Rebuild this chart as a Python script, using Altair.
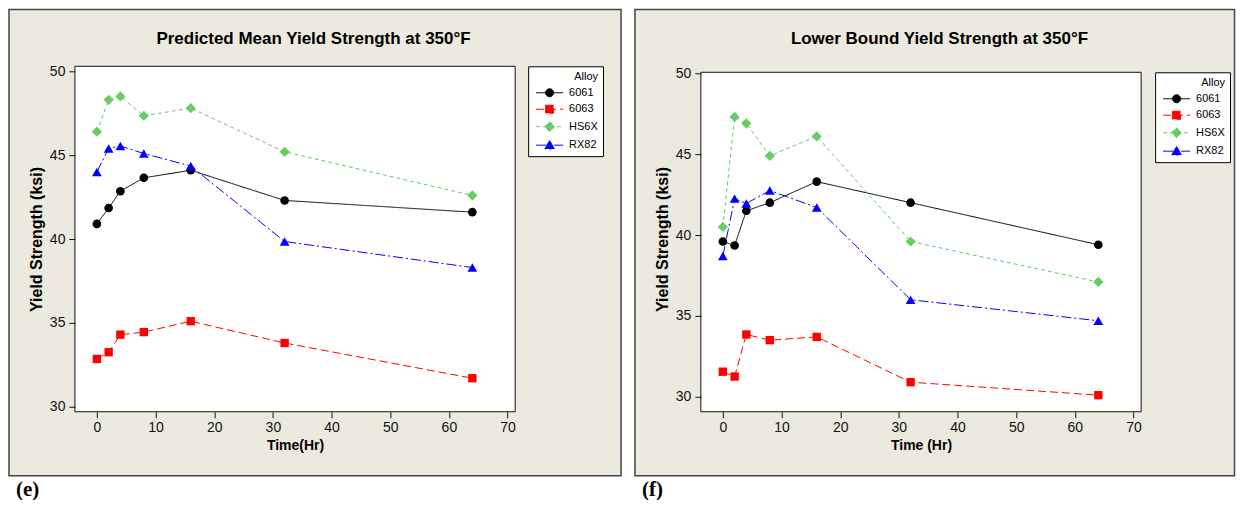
import altair as alt
import pandas as pd

FONT = "Liberation Sans"
BEIGE = "#ECE9DF"

times = [0, 2, 4, 8, 16, 32, 64]
alloys = ["6061", "6063", "HS6X", "RX82"]

mean_6061 = [40.9, 41.85, 42.85, 43.65, 44.1, 42.3, 41.6]
mean_6063 = [32.85, 33.25, 34.3, 34.45, 35.1, 33.8, 31.7]
mean_hs6x = [46.4, 48.3, 48.5, 47.35, 47.8, 45.2, 42.6]
mean_rx82 = [44.0, 45.4, 45.55, 45.1, 44.35, 39.85, 38.3]

lower_6061 = [39.6, 39.35, 41.5, 42.0, 43.3, 42.0, 39.4]
lower_6063 = [31.55, 31.25, 33.85, 33.5, 33.7, 30.9, 30.1]
lower_hs6x = [40.5, 47.3, 46.9, 44.9, 46.1, 39.6, 37.1]
lower_rx82 = [38.7, 42.25, 41.95, 42.75, 41.7, 36.0, 34.7]

x_ticks = [0, 10, 20, 30, 40, 50, 60, 70]
y_ticks = [30, 35, 40, 45, 50]

colors = ["#000000", "#FF0000", "#66CC66", "#0000FF"]
dashes = [[1, 0], [8, 4], [4, 3], [10, 3, 2, 3]]
legend_paths = [
    "M-2.7,0H2.7M0.8,0A0.8,0.8,0,1,1,-0.8,0A0.8,0.8,0,1,1,0.8,0Z",
    "M-2.7,0H2.7M-0.8,-0.8H0.8V0.8H-0.8Z",
    "M-2.7,0H2.7M0,-1L1,0L0,1L-1,0Z",
    "M-2.7,0H2.7M0,-0.95L0.95,0.75H-0.95Z",
]

W, H = 441, 346


def long_df(series):
    rows = []
    for alloy, vals in zip(alloys, series):
        for t, v in zip(times, vals):
            rows.append({"Alloy": alloy, "Time": t, "Yield": v})
    return pd.DataFrame(rows)


def panel(df, title, xtitle, y_domain, frame_top, leg_x, leg_y, bg_box, tag):
    one = pd.DataFrame({"k": [0]})
    xs = alt.Scale(domain=[-3.75, 71.3], nice=False, zero=False)
    ys = alt.Scale(domain=y_domain, nice=False, zero=False)
    xax = alt.Axis(values=x_ticks, title=xtitle, tickSize=6, labelPadding=3,
                   titlePadding=4, titleFontSize=14, domain=False, grid=False,
                   zindex=1, labelFont=FONT, labelFontSize=14, labelColor="#111",
                   tickColor="#111", titleFont=FONT, titleFontWeight="bold",
                   titleColor="#000")
    yax = alt.Axis(values=y_ticks, title="Yield Strength (ksi)", tickSize=6,
                   labelPadding=4, titlePadding=5, titleFontSize=16, domain=False,
                   grid=False, zindex=1, labelFont=FONT, labelFontSize=14,
                   labelColor="#111", tickColor="#111", titleFont=FONT,
                   titleFontWeight="bold", titleColor="#000")
    X = alt.X("Time:Q", scale=xs, axis=xax)
    Y = alt.Y("Yield:Q", scale=ys, axis=yax)

    leg = alt.Legend(title="Alloy", orient="none", legendX=leg_x, legendY=leg_y,
                     fillColor="white", strokeColor="black", padding=5,
                     titleFont=FONT, titleFontSize=11, titleFontWeight="normal",
                     titleColor="black", titleAnchor="end", titlePadding=5,
                     labelFont=FONT, labelFontSize=11, labelColor="black",
                     labelOffset=14, symbolSize=100, symbolStrokeWidth=1,
                     symbolOpacity=1, symbolOffset=11, rowPadding=3.5, zindex=1)

    col_scale = alt.Scale(domain=alloys, range=colors)
    dash_scale = alt.Scale(domain=alloys, range=dashes)

    bx0, bx1, by0, by1 = bg_box
    bg = alt.Chart(one).mark_rect(fill=BEIGE, stroke="#444", strokeWidth=1.5).encode(
        x=alt.value(bx0), x2=alt.value(bx1), y=alt.value(by0), y2=alt.value(by1))
    frame = alt.Chart(one).mark_rect(fill="white", stroke="#111", strokeWidth=1).encode(
        x=alt.value(0), x2=alt.value(W), y=alt.value(frame_top), y2=alt.value(H))
    ttl = alt.Chart(one).mark_text(text=title, font=FONT, fontSize=17, fontWeight="bold",
                                   color="black", align="center", baseline="alphabetic").encode(
        x=alt.value(239), y=alt.value(-22))
    tag_t = alt.Chart(one).mark_text(text=tag, font="Liberation Serif", fontSize=21,
                                     fontWeight="bold", color="black", align="left",
                                     baseline="alphabetic").encode(
        x=alt.value(-59), y=alt.value(430))

    # invisible carrier of the legend (first, so its legend settings win)
    legend_layer = alt.Chart(df).mark_point(filled=True).encode(
        x=X, y=Y,
        fill=alt.Fill("Alloy:N", scale=col_scale, legend=leg),
        stroke=alt.Stroke("Alloy:N", scale=col_scale, legend=leg),
        strokeDash=alt.StrokeDash("Alloy:N", scale=dash_scale, legend=leg),
        shape=alt.Shape("Alloy:N", scale=alt.Scale(domain=alloys, range=legend_paths), legend=leg),
        opacity=alt.value(0),
    )
    lines = alt.Chart(df).mark_line(strokeWidth=1).encode(
        x=X, y=Y,
        stroke=alt.Stroke("Alloy:N", scale=col_scale, legend=leg),
        strokeDash=alt.StrokeDash("Alloy:N", scale=dash_scale, legend=leg),
    )
    points = alt.Chart(df).transform_calculate(
        idx="indexof(['6061','6063','HS6X','RX82'], datum.Alloy)"
    ).transform_calculate(
        marker="['circle','square','diamond','triangle-up'][datum.idx]",
        msize="[75, 70, 105, 95][datum.idx]",
    ).mark_point(filled=True, opacity=1).encode(
        x=X, y=Y,
        fill=alt.Fill("Alloy:N", scale=col_scale, legend=leg),
        shape=alt.Shape("marker:N", scale=None),
        size=alt.Size("msize:Q", scale=None),
    )
    layers = [bg, frame, ttl, tag_t, legend_layer, lines, points]
    return alt.layer(*layers).properties(width=W, height=H)


df_mean = long_df([mean_6061, mean_6063, mean_hs6x, mean_rx82])
df_low = long_df([lower_6061, lower_6063, lower_hs6x, lower_rx82])

left = panel(df_mean, "Predicted Mean Yield Strength at 350°F", "Time(Hr)",
             [29.702, 50.298], 0, 454, 0, (-66, 547, -57, 410), "(e)")
right = panel(df_low, "Lower Bound Yield Strength at 350°F", "Time (Hr)",
              [29.074, 50.432], 6, 455, 6, (-66, 534.5, -57, 410), "(f)")

chart = alt.hconcat(left, right, spacing=12).resolve_scale(
    x="independent", y="independent", fill="independent",
    stroke="independent", strokeDash="independent", shape="independent",
).resolve_legend(
    fill="independent", stroke="independent", strokeDash="independent", shape="independent",
).configure(
    background="white", padding=0,
).configure_view(stroke=None, fill=None)

chart.save("out.html", embed_options={"renderer": "svg", "actions": False})
